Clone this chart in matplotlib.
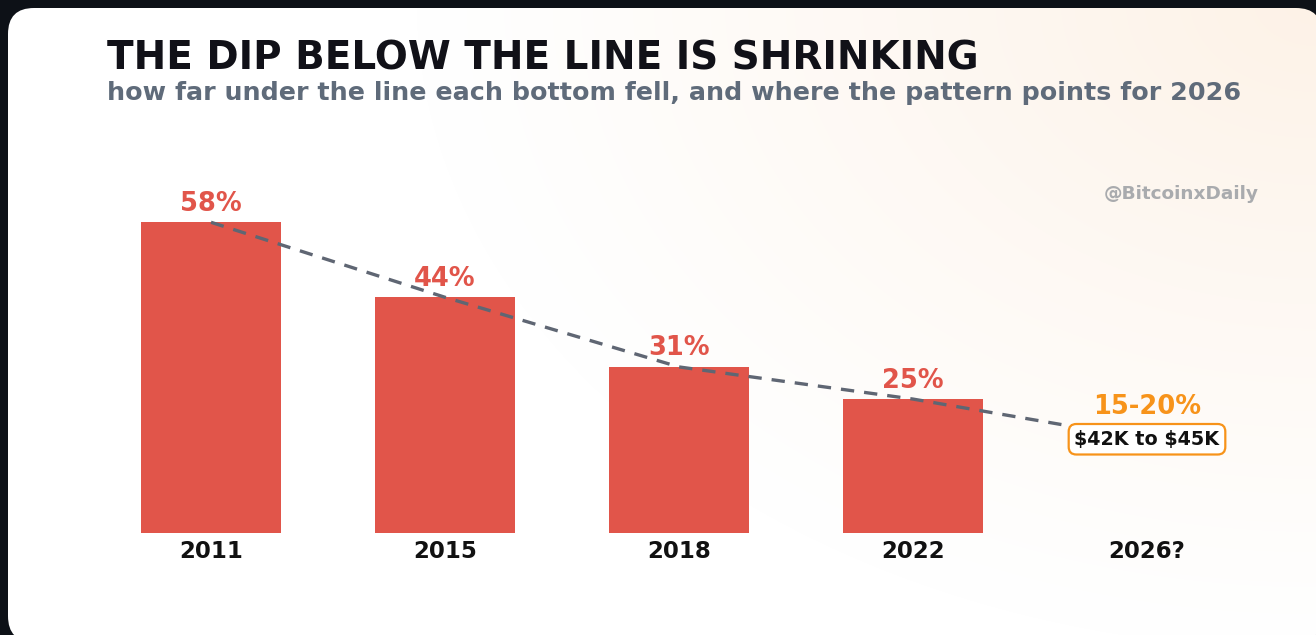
import numpy as np
import matplotlib.pyplot as plt
from matplotlib.patches import FancyBboxPatch

years = ['2011', '2015', '2018', '2022', '2026?']
dips = [58, 44, 31, 25]
labels = ['58%', '44%', '31%', '25%']
proj_low, proj_high = 15, 20
proj_label = '15-20%'
proj_price = r'\$42K to \$45K'

red = '#e1554a'
orange = '#f7931a'

fig = plt.figure(figsize=(13.16, 6.35), dpi=100)
fig.patch.set_facecolor('#0d1117')

# card with soft warm gradient from the top right corner
bg = fig.add_axes([0, 0, 1, 1])
bg.set_xlim(0, 1316)
bg.set_ylim(635, 0)
bg.axis('off')
yy, xx = np.mgrid[0:635, 0:1316]
d = np.sqrt(((xx - 1316) / 900.0) ** 2 + (yy / 650.0) ** 2)
t = np.clip(1 - d, 0, 1) ** 1.1
c0 = np.array([1.0, 1.0, 1.0])
c1 = np.array([253, 242, 231]) / 255.0
img = c0[None, None, :] * (1 - t[..., None]) + c1[None, None, :] * t[..., None]
card = FancyBboxPatch((8, 8), 1314, 634, boxstyle='round,pad=0,rounding_size=26',
                      transform=bg.transData, facecolor='none', edgecolor='none')
bg.add_patch(card)
im = bg.imshow(img, extent=(0, 1316, 635, 0), interpolation='bilinear')
im.set_clip_path(card)
bg.set_xlim(0, 1316)
bg.set_ylim(635, 0)

ax = fig.add_axes([94 / 1316, 1 - 533 / 635, 1170 / 1316, 375 / 635])
ax.set_facecolor('none')
x = np.arange(len(years))
ax.bar(x[:4], dips, width=0.6, color=red, zorder=2)

line_x = list(x)
line_y = dips + [(proj_low + proj_high) / 2]
ax.plot(line_x, line_y, color='#5f6673', lw=2.4, ls=(0, (4, 3)), zorder=3)

for i, v in enumerate(dips):
    ax.annotate(labels[i], (x[i], v), xytext=(0, 4), textcoords='offset points',
                ha='center', va='bottom', fontsize=18.5, fontweight='bold', color=red, zorder=5)

ax.annotate(proj_label, (x[4], proj_high), xytext=(0, 4), textcoords='offset points',
            ha='center', va='bottom', fontsize=18.5, fontweight='bold', color=orange, zorder=5)
ax.text(x[4], (proj_low + proj_high) / 2, proj_price, ha='center', va='center',
        fontsize=13.8, fontweight='bold', color='#111111', zorder=6,
        bbox=dict(boxstyle='round,pad=0.3,rounding_size=0.4', fc='white', ec=orange, lw=1.6))

ax.set_xlim(-0.5, 4.5)
ax.set_ylim(0, 70)
ax.set_xticks(x)
ax.set_xticklabels(years, fontsize=16.5, fontweight='bold', color='#111111')
ax.tick_params(axis='x', length=0, pad=5)
ax.set_yticks([])
for s in ax.spines.values():
    s.set_visible(False)

fig.text(107 / 1316, 1 - 58 / 635, 'THE DIP BELOW THE LINE IS SHRINKING', fontsize=28,
         fontweight='bold', color='#111118', va='center', ha='left')
fig.text(107 / 1316, 1 - 93 / 635, 'how far under the line each bottom fell, and where the pattern points for 2026',
         fontsize=18.3, fontweight='bold', color='#5f6b7a', va='center', ha='left')
fig.text(1259 / 1316, 1 - 194 / 635, '@BitcoinxDaily', fontsize=13.3, fontweight='bold',
         color='#a9abae', va='center', ha='right')

fig.savefig('out.png', dpi=100, facecolor=fig.get_facecolor())
